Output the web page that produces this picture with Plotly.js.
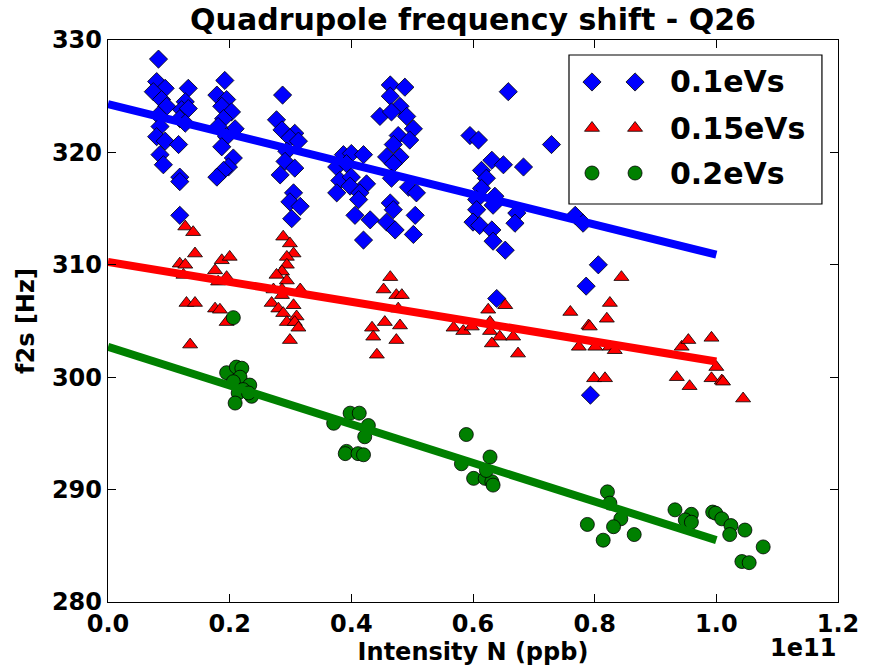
<!DOCTYPE html>
<html>
<head>
<meta charset="utf-8">
<script src="https://cdn.plot.ly/plotly-3.0.1.min.js"></script>
<style>html,body{margin:0;padding:0;background:#fff;}#chart{width:870px;height:666px;}</style>
</head>
<body>
<div id="chart"></div>
<script>
// Intensity in units of 1e11 ppb, f2s in Hz
const blueX = [0.083,0.080,0.094,0.0745,0.088,0.0965,0.083,0.0855,0.080,0.094,0.0855,0.091,0.118,0.118,0.118,
  0.132,0.127,0.121,0.132,0.118,0.127,0.116,
  0.192,0.179,0.195,0.187,0.203,0.190,0.181,0.209,0.195,0.187,0.206,0.198,0.190,0.179,
  0.287,0.277,0.286,0.307,0.299,0.313,0.294,0.291,0.307,0.283,0.305,0.299,0.316,0.302,
  0.387,0.400,0.420,0.376,0.392,0.381,0.400,0.425,0.376,0.398,0.414,0.412,0.406,0.431,0.420,
  0.464,0.488,0.464,0.480,0.447,0.466,0.491,0.502,0.477,0.496,0.469,0.458,0.480,0.469,0.466,0.494,0.507,0.464,0.469,0.505,0.458,0.472,0.502,
  0.658,
  0.595,0.609,0.631,0.650,0.614,0.622,0.614,0.636,0.606,0.633,0.606,0.600,0.611,0.631,0.633,0.653,
  0.729,0.683,0.672,0.669,0.639,0.768,0.781,0.806,0.786,0.793];
const blueY = [328.3,326.3,325.7,325.4,324.7,324.1,323.3,322.3,321.4,321.0,319.8,318.9,317.8,317.4,314.4,
  325.7,324.5,323.8,323.9,323.0,322.6,320.7,
  326.4,325.1,324.7,324.1,323.6,323.0,322.3,322.1,321.4,320.5,319.5,318.7,318.4,317.8,
  325.1,322.9,322.0,321.7,321.3,321.0,320.1,319.2,318.6,318.0,316.4,315.6,315.2,314.1,
  319.8,319.9,319.8,318.7,319.0,317.5,317.8,317.2,316.4,317.0,316.4,315.8,314.4,314.0,312.2,
  326.0,325.8,325.0,324.1,323.2,323.6,323.2,322.1,321.5,321.1,320.7,319.6,319.6,319.0,317.7,316.9,316.4,315.5,314.9,314.4,313.8,313.1,312.7,
  325.4,
  321.5,321.1,319.3,318.9,318.4,317.7,316.8,316.1,315.8,315.3,314.9,313.8,313.5,313.1,312.1,311.3,
  320.7,318.7,314.6,313.7,307.0,314.4,313.7,310.0,308.1,298.4];

const redX = [0.127,0.140,0.143,0.118,0.127,0.124,0.129,0.143,0.135,
  0.187,0.200,0.176,0.181,0.195,0.176,0.184,0.195,
  0.288,0.299,0.305,0.294,0.294,0.286,0.277,0.294,0.272,0.286,0.316,0.269,0.280,0.305,0.288,0.310,0.294,0.307,0.313,0.299,0.286,
  0.464,0.453,0.474,0.483,0.477,0.455,0.480,0.434,0.436,0.474,0.442,
  0.568,0.584,0.598,0.625,0.653,0.628,0.628,0.644,0.666,0.631,0.674,
  0.844,0.760,0.825,0.820,0.790,0.792,0.774,0.801,0.825,0.833,0.799,0.817,
  0.943,0.954,0.992,0.935,0.956,0.992,1.000,1.009,1.011,1.044];
const redY = [313.4,312.9,311.0,310.1,310.0,309.1,306.6,306.6,302.9,
  310.4,310.7,309.5,308.5,308.9,306.1,306.0,304.9,
  312.5,311.9,311.0,310.7,310.0,309.4,309.1,308.6,307.8,307.8,307.8,306.6,306.1,306.4,305.7,305.4,304.9,304.9,304.4,303.3,307.3,
  308.9,307.8,307.3,307.3,306.1,304.9,304.6,304.4,303.6,303.3,302.0,
  304.4,304.1,304.5,306.0,306.4,304.9,304.1,303.6,303.6,303.0,302.1,
  308.9,305.8,306.6,305.2,304.6,304.5,302.7,302.7,302.7,302.4,299.9,299.9,
  302.7,303.3,303.5,300.0,299.2,299.9,300.9,299.7,299.6,298.1];

const greenX = [0.206,0.195,0.211,0.220,0.217,0.206,0.233,0.222,0.214,0.236,0.209,0.231,
  0.371,0.398,0.413,0.428,0.422,0.392,0.390,0.411,0.420,
  0.589,0.581,0.628,0.601,0.620,0.631,0.633,0.622,
  0.821,0.825,0.788,0.843,0.831,0.814,0.865,
  0.932,0.959,0.949,0.959,0.994,0.999,1.009,1.024,1.022,1.047,1.077,1.042,1.054];
const greenY = [305.3,300.4,300.9,300.8,300.0,299.6,299.3,298.9,298.6,298.3,297.7,298.6,
  295.9,296.8,296.8,295.7,294.7,293.4,293.2,293.2,293.1,
  294.9,292.3,292.9,291.0,291.0,290.7,290.4,291.7,
  289.8,288.8,286.9,287.4,286.7,285.5,286.0,
  288.2,287.8,287.3,287.1,288.0,287.9,287.4,286.8,286.0,286.4,284.9,283.6,283.5];

// Linear fits (endpoints at N = 0 and N = 1.0e11)
const fitX = [0.0, 1.0];
const blueFit = [324.3, 310.9];
const redFit = [310.25, 301.4];
const greenFit = [302.7, 285.5];

const seriesNames = ['0.1eVs', '0.15eVs', '0.2eVs'];
const xTicks = [0.0, 0.2, 0.4, 0.6, 0.8, 1.0, 1.2];
const yTicks = [280, 290, 300, 310, 320, 330];

const F = 'DejaVu Sans, Liberation Sans, sans-serif';
const edge = {color: '#000', width: 0.8};
const colors = ['#0000ff', '#ff0000', '#008000'];
const symbols = ['diamond', 'triangle-up', 'circle'];
const sizes = [14, 13, 14];

const traces = [
  {x: blueX, y: blueY, type: 'scatter', mode: 'markers', name: seriesNames[0],
   marker: {symbol: symbols[0], size: sizes[0], color: colors[0], line: edge}},
  {x: fitX, y: blueFit, type: 'scatter', mode: 'lines',
   line: {color: colors[0], width: 8}},
  {x: redX, y: redY, type: 'scatter', mode: 'markers', name: seriesNames[1],
   marker: {symbol: symbols[1], size: sizes[1], color: colors[1], line: edge}},
  {x: fitX, y: redFit, type: 'scatter', mode: 'lines',
   line: {color: colors[1], width: 8}},
  {x: greenX, y: greenY, type: 'scatter', mode: 'markers', name: seriesNames[2],
   marker: {symbol: symbols[2], size: sizes[2], color: colors[2], line: edge}},
  {x: fitX, y: greenFit, type: 'scatter', mode: 'lines',
   line: {color: colors[2], width: 8}}
];

// Matplotlib-style legend (two sample markers per entry) on a hidden 0..1 overlay axis
const legX = [0.663, 0.722];
const legRows = [0.9253, 0.8434, 0.7633];
const annotations = [];
for (let i = 0; i < 3; i++) {
  traces.push({x: legX, y: [legRows[i], legRows[i]], xaxis: 'x2', yaxis: 'y2',
    type: 'scatter', mode: 'markers', cliponaxis: false,
    marker: {symbol: symbols[i], size: sizes[i], color: colors[i], line: edge}});
  annotations.push({text: seriesNames[i], xref: 'paper', yref: 'paper', x: 0.767, y: legRows[i],
    xanchor: 'left', yanchor: 'middle', showarrow: false,
    font: {family: F, size: 30, color: '#000', weight: 'bold'}});
}
annotations.push({text: '1e11', xref: 'paper', yref: 'paper', x: 1, y: -0.082,
  xanchor: 'right', yanchor: 'middle', showarrow: false,
  font: {family: F, size: 24, color: '#000', weight: 'bold'}});

const axisCommon = {
  showline: true, linecolor: '#000', linewidth: 1.2, mirror: 'allticks',
  ticks: 'inside', ticklen: 8, tickcolor: '#000', tickwidth: 1,
  showgrid: false, zeroline: false,
  tickfont: {family: F, size: 24, color: '#000', weight: 'bold'}
};

const layout = {
  width: 870, height: 666,
  margin: {l: 108, r: 32, t: 40, b: 64},
  paper_bgcolor: '#fff', plot_bgcolor: '#fff',
  showlegend: false,
  title: {text: 'Quadrupole frequency shift - Q26', xref: 'paper', x: 0.5, xanchor: 'center',
          yref: 'container', y: 0.971, yanchor: 'middle',
          font: {family: F, size: 30, color: '#000', weight: 'bold'}},
  xaxis: Object.assign({}, axisCommon, {
    range: [0, 1.2], tickvals: xTicks, ticktext: xTicks.map(v => v.toFixed(1)),
    title: {text: 'Intensity N (ppb)', standoff: 2, font: {family: F, size: 24, color: '#000', weight: 'bold'}}
  }),
  yaxis: Object.assign({}, axisCommon, {
    range: [280, 330], tickvals: yTicks, ticktext: yTicks.map(String),
    title: {text: 'f2s [Hz]', standoff: 10, font: {family: F, size: 24, color: '#000', weight: 'bold'}}
  }),
  xaxis2: {overlaying: 'x', range: [0, 1], visible: false, fixedrange: true},
  yaxis2: {overlaying: 'y', range: [0, 1], visible: false, fixedrange: true},
  shapes: [{type: 'rect', xref: 'paper', yref: 'paper', x0: 0.6315, x1: 0.978, y0: 0.7082, y1: 0.9733,
            line: {color: '#000', width: 1.2}, fillcolor: 'rgba(0,0,0,0)', layer: 'above'}],
  annotations: annotations
};

Plotly.newPlot('chart', traces, layout, {displayModeBar: false, staticPlot: true});
</script>
</body>
</html>
